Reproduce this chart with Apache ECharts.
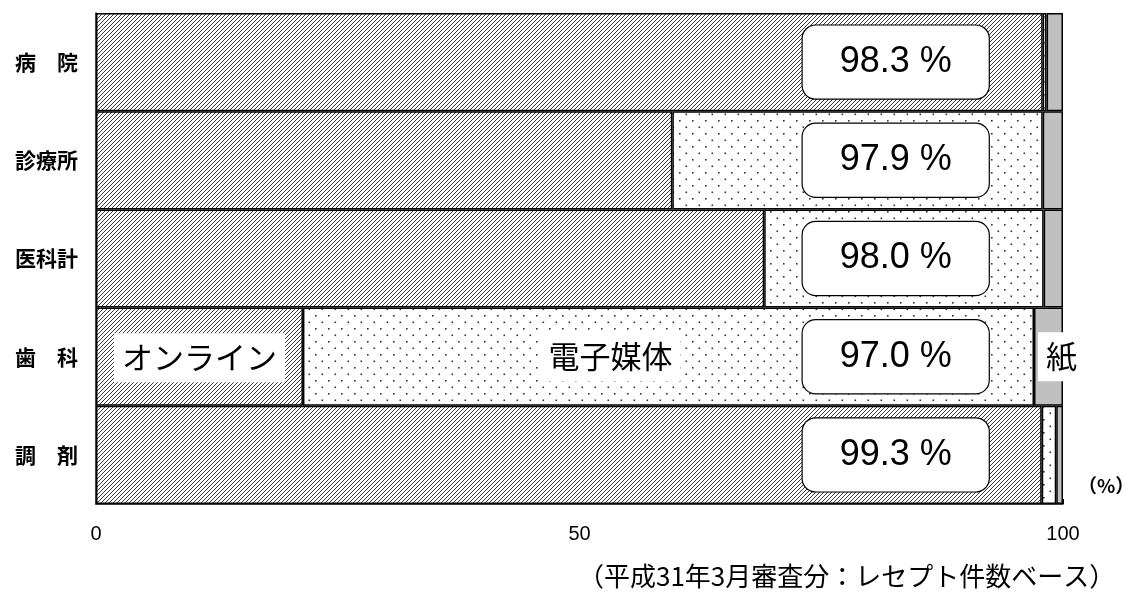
<!DOCTYPE html>
<html><head><meta charset="utf-8">
<script src="https://cdn.jsdelivr.net/npm/echarts@6/dist/echarts.min.js"></script>
<style>html,body{margin:0;padding:0;background:#fff}#c{width:1123px;height:597px}</style>
</head><body><div id="c"></div>
<script>
const categories = ['病　院', '診療所', '医科計', '歯　科', '調　剤'];
const online     = [97.9, 59.6, 69.1, 21.4, 97.8];
const electronic = [0.4, 38.3, 28.9, 75.6, 1.5];
const paper      = [1.7, 2.1, 2.0, 3.0, 0.7];
const rateLabels = ['98.3 %', '97.9 %', '98.0 %', '97.0 %', '99.3 %'];
const seriesNames = ['オンライン', '電子媒体', '紙'];
const labelRowIndex = 3;
const rateLabelX = 82.7;

function hatch() {
  const c = document.createElement('canvas'); c.width = 4; c.height = 4;
  const g = c.getContext('2d');
  g.fillStyle = '#fff'; g.fillRect(0, 0, 4, 4);
  g.strokeStyle = '#3a3a3a'; g.lineWidth = 1.0;
  g.beginPath();
  g.moveTo(-1, 5); g.lineTo(5, -1);
  g.moveTo(-1, 1); g.lineTo(1, -1);
  g.moveTo(3, 5); g.lineTo(5, 3);
  g.stroke();
  return c;
}
function dots() {
  const c = document.createElement('canvas'); c.width = 13; c.height = 13;
  const g = c.getContext('2d');
  g.fillStyle = '#fff'; g.fillRect(0, 0, 13, 13);
  g.fillStyle = '#333';
  g.fillRect(3, 3, 1.6, 1.6);
  g.fillRect(9.5, 9.5, 1.6, 1.6);
  return c;
}
const font = 'Noto Sans CJK JP';
const chart = echarts.init(document.getElementById('c'), null, {renderer: 'canvas'});
const inlineLabel = (name, offset) => ({
  show: true, position: 'inside', formatter: name, offset: offset,
  fontFamily: font, fontSize: 31, color: '#000', backgroundColor: '#fff',
  padding: [9, 8, 9, 8]
});
function seriesData(vals, idx, offset) {
  return vals.map((v, i) => i === labelRowIndex ? {value: v, label: inlineLabel(seriesNames[idx], offset)} : v);
}
const barStyle = {borderColor: '#000', borderWidth: 1.5};
chart.setOption({
  animation: false,
  grid: {left: 96, right: 60, top: 13, bottom: 93},
  xAxis: {
    type: 'value', min: 0, max: 100, interval: 50,
    splitLine: {show: false},
    axisLine: {show: true, lineStyle: {color: '#000', width: 1.5}},
    axisTick: {show: true, inside: true, length: 5, lineStyle: {color: '#000'}},
    axisLabel: {margin: 20, fontSize: 20, color: '#000', fontFamily: 'Liberation Sans'}
  },
  yAxis: {
    type: 'category', data: categories, inverse: true,
    axisLine: {show: true, lineStyle: {color: '#000', width: 1.5}},
    axisTick: {show: false},
    axisLabel: {margin: 18, fontSize: 21, color: '#000', fontFamily: font, fontWeight: 'bold'}
  },
  series: [
    {name: seriesNames[0], type: 'bar', stack: 's', barCategoryGap: '0%',
     itemStyle: Object.assign({color: {image: hatch(), repeat: 'repeat'}}, barStyle),
     data: seriesData(online, 0, [0, 1])},
    {name: seriesNames[1], type: 'bar', stack: 's', barCategoryGap: '0%',
     itemStyle: Object.assign({color: {image: dots(), repeat: 'repeat'}}, barStyle),
     data: seriesData(electronic, 1, [-58, 0])},
    {name: seriesNames[2], type: 'bar', stack: 's', barCategoryGap: '0%',
     itemStyle: Object.assign({color: '#c0c0c0'}, barStyle),
     data: seriesData(paper, 2, [13, 0])},
    {type: 'scatter', symbolSize: 0, z: 10,
     itemStyle: {color: '#fff', opacity: 1},
     emphasis: {disabled: true},
     data: categories.map((c, i) => [rateLabelX, i]),
     label: {show: true, position: 'inside', formatter: p => rateLabels[p.dataIndex],
       fontSize: 36, fontFamily: 'Liberation Sans', fontWeight: 'normal', color: '#000', backgroundColor: '#fff',
       borderColor: '#000', borderWidth: 1.2, borderRadius: 13,
       width: 186, height: 73, lineHeight: 73, align: 'center', verticalAlign: 'middle'}}
  ],
  graphic: [
    {type: 'text', left: 1078, top: 476, style: {text: '（%）', font: 'bold 19px "Noto Sans CJK JP"', fill: '#000'}},
    {type: 'text', left: 578, top: 563, style: {text: '（平成31年3月審査分：レセプト件数ベース）', font: '26px "Noto Sans CJK JP"', fill: '#000'}}
  ]
});
</script></body></html>
